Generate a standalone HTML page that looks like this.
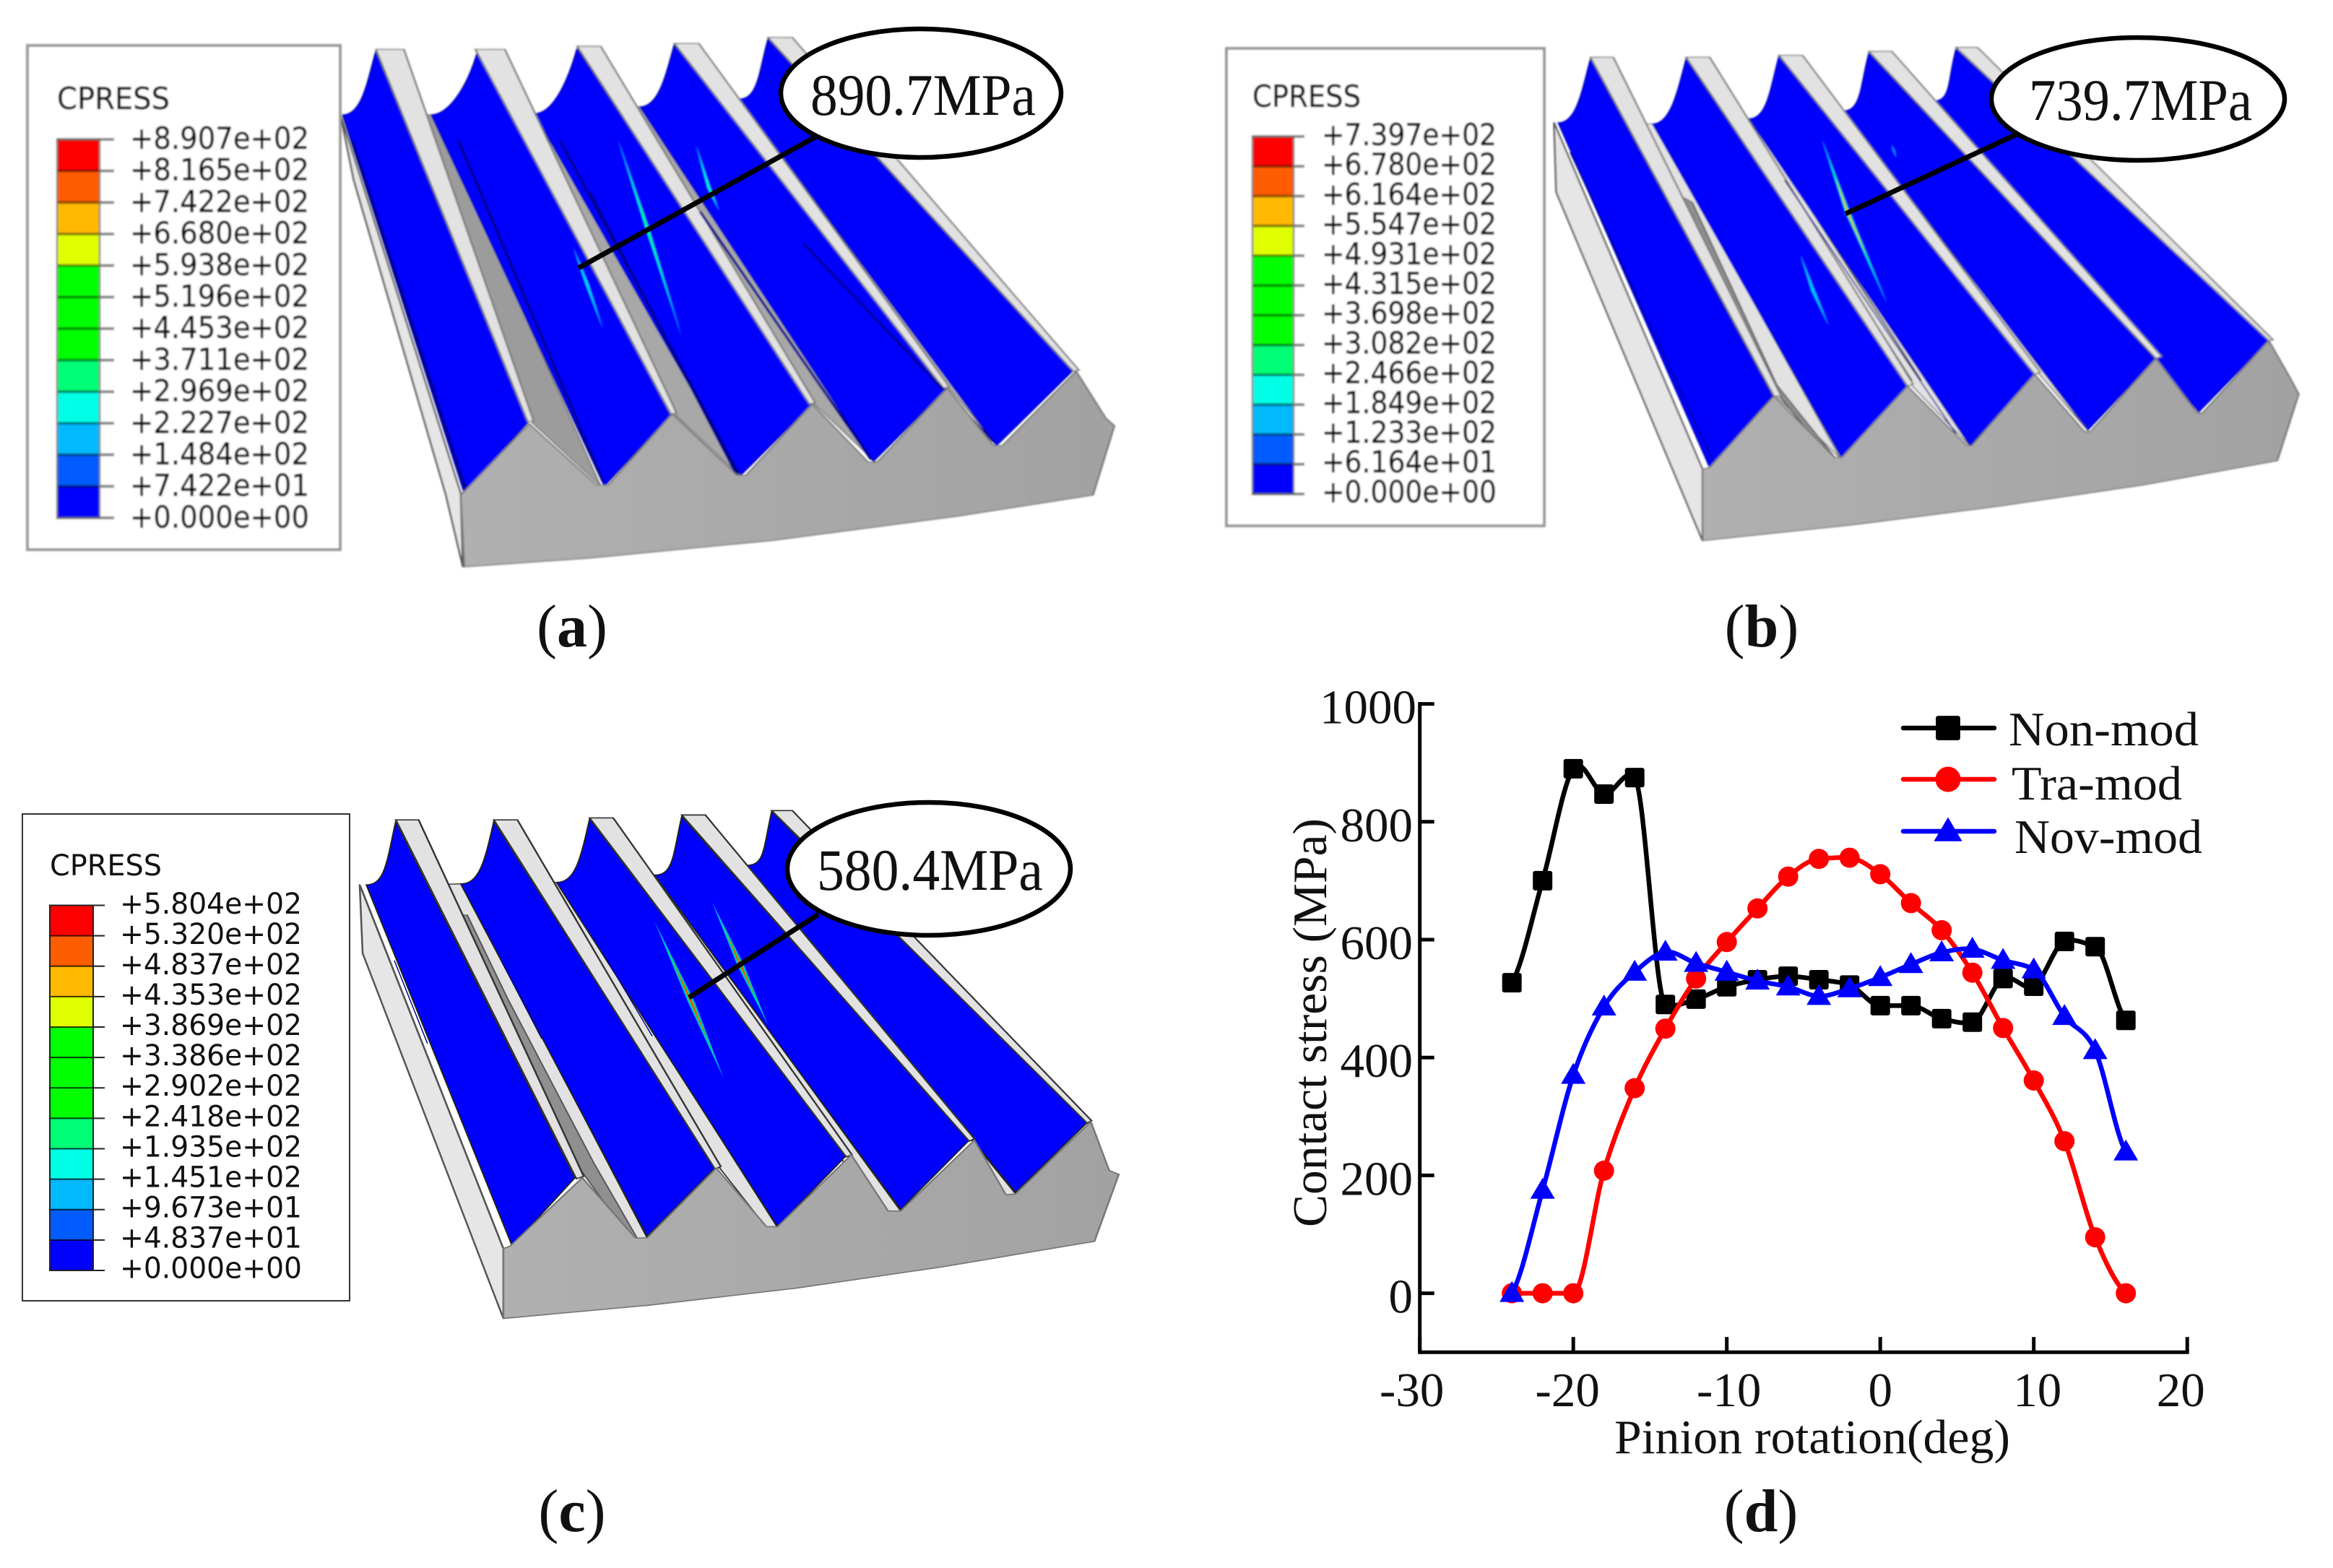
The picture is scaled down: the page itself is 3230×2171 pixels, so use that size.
<!DOCTYPE html>
<html lang="en">
<head>
<meta charset="utf-8">
<title>Contact pressure results</title>
<style>
html,body{margin:0;padding:0;background:#fff;}
svg{display:block;position:absolute;left:0;top:0;}
text{font-family:"Liberation Serif",serif;fill:#111;}
.fea{font-family:"DejaVu Sans",sans-serif;fill:#111;}
</style>
</head>
<body>
<svg id="root" xmlns="http://www.w3.org/2000/svg" width="3230" height="2171" viewBox="0 0 3230 2171">
<defs>
<filter id="soft" x="-2%" y="-2%" width="104%" height="104%"><feGaussianBlur stdDeviation="1.1"/></filter>
<linearGradient id="faceGrad" x1="0" y1="0" x2="1" y2="0"><stop offset="0" stop-color="#b0b0b0"/><stop offset="1" stop-color="#a2a2a2"/></linearGradient>
</defs>
<rect width="3230" height="2171" fill="#fff"/>
<g id="panel-a" filter="url(#soft)"></g>
<g id="panel-b" filter="url(#soft)"></g>
<g id="panel-c"></g>
<g id="callouts"></g>
<g id="chart"></g>
<text x="792" y="895" text-anchor="middle" font-size="84">(<tspan font-weight="bold">a</tspan>)</text>
<text x="2439" y="895" text-anchor="middle" font-size="84">(<tspan font-weight="bold">b</tspan>)</text>
<text x="792" y="2120" text-anchor="middle" font-size="84">(<tspan font-weight="bold">c</tspan>)</text>
<text x="2438" y="2120" text-anchor="middle" font-size="84">(<tspan font-weight="bold">d</tspan>)</text>
</svg>
<script>
// ---------- chart data ----------
const rotation = [-24,-22,-20,-18,-16,-14,-12,-10,-8,-6,-4,-2,0,2,4,6,8,10,12,14,16];
const nonMod = [527,700,890,847,875,490,499,520,532,538,532,523,488,488,466,460,534,521,597,588,463];
const traMod = [0,0,0,208,348,449,534,596,653,707,737,739,711,662,616,544,450,361,258,95,0];
const novMod = [0,175,370,486,545,579,560,545,530,520,504,517,536,558,578,584,565,549,470,412,240];
const xTicks = [-30,-20,-10,0,10,20];
const yTicks = [1000,800,600,400,200,0];
const seriesNames = ['Non-mod','Tra-mod','Nov-mod'];

// ---------- FEA legend data ----------
const legendA = ['+8.907e+02','+8.165e+02','+7.422e+02','+6.680e+02','+5.938e+02','+5.196e+02','+4.453e+02','+3.711e+02','+2.969e+02','+2.227e+02','+1.484e+02','+7.422e+01','+0.000e+00'];
const legendB = ['+7.397e+02','+6.780e+02','+6.164e+02','+5.547e+02','+4.931e+02','+4.315e+02','+3.698e+02','+3.082e+02','+2.466e+02','+1.849e+02','+1.233e+02','+6.164e+01','+0.000e+00'];
const legendC = ['+5.804e+02','+5.320e+02','+4.837e+02','+4.353e+02','+3.869e+02','+3.386e+02','+2.902e+02','+2.418e+02','+1.935e+02','+1.451e+02','+9.673e+01','+4.837e+01','+0.000e+00'];
const bandColors = ['#ff0000','#ff5c00','#ffb900','#e0ff00','#00ff00','#00ff00','#00ff00','#00ff76','#00ffe6','#00b9ff','#005cff','#0000ff'];

const NS = 'http://www.w3.org/2000/svg';
function mk(parent, tag, attrs, name) {
  const el = document.createElementNS(NS, tag);
  for (const k in attrs) el.setAttribute(k, attrs[k]);
  
  
  parent.appendChild(el);
  return el;
}
function ptsStr(p) { return p.map(q => q.join(',')).join(' '); }

// ---------- FEA legend ----------
function drawLegend(g, o, labels, crisp) {
  mk(g, 'rect', {x:o.bx, y:o.by, width:o.bw, height:o.bh, fill:'#fff', stroke:crisp?'#333':'#999', 'stroke-width':crisp?2:4}, 'legend-box');
  const tAttrs = {x:o.tx, y:o.ty, 'font-size':crisp?40:42, textLength:o.tw, lengthAdjust:'spacingAndGlyphs', class:'fea'};
  if (!crisp) { tAttrs.stroke = '#111'; tAttrs['stroke-width'] = 0.6; }
  const t = mk(g, 'text', tAttrs, 'legend-title');
  t.textContent = 'CPRESS';
  const n = labels.length - 1, h = (o.y2 - o.y1) / n;
  bandColors.forEach(function (c, i) {
    mk(g, 'rect', {x:o.x1, y:o.y1 + i*h, width:o.x2-o.x1, height:h+0.5, fill:c}, 'legend-band');
  });
  labels.forEach(function (lab, i) {
    const y = o.y1 + i*h;
    mk(g, 'line', {x1:o.x1, x2:o.x2, y1:y, y2:y, stroke:'#000', 'stroke-opacity':crisp?0.75:0.4, 'stroke-width':crisp?2:4}, 'legend-separator');
    mk(g, 'line', {x1:o.x2, x2:o.tick, y1:y, y2:y, stroke:crisp?'#222':'#888', 'stroke-width':crisp?2:4}, 'legend-tick');
    const a = {x:o.lx, y:o.lc + i*o.ls + 15, 'font-size':crisp?40:42, textLength:o.lw, lengthAdjust:'spacingAndGlyphs', class:'fea'};
    if (!crisp) { a.stroke = '#111'; a['stroke-width'] = 0.6; }
    const tx = mk(g, 'text', a, 'legend-label');
    tx.textContent = lab;
  });
  if (!crisp) mk(g, 'rect', {x:o.x1, y:o.y1, width:o.x2-o.x1, height:o.y2-o.y1, fill:'none', stroke:'#777', 'stroke-opacity':.7, 'stroke-width':3}, 'legend-bar-outline');
  else mk(g, 'rect', {x:o.x1, y:o.y1, width:o.x2-o.x1, height:o.y2-o.y1, fill:'none', stroke:'#222', 'stroke-width':2}, 'legend-bar-outline');
}

// ---------- FEA gear model ----------
function lens(a, m, b, w) {
  return [a, [m[0]-w, m[1]], b, [m[0]+w, m[1]]];
}
function along(p, q, f) { return [p[0]+(q[0]-p[0])*f, p[1]+(q[1]-p[1])*f]; }
function drawGear(g, o) {
  const m = mk(g, 'g', {transform:'translate('+o.ox+','+o.oy+') scale('+o.sx+','+o.sy+')'}, 'gear-model');
  function toLocal(p) { return [(p[0]-o.ox)/o.sx, (p[1]-o.oy)/o.sy]; }
  mk(m, 'polygon', {points:ptsStr(o.left), fill:'#e6e6e6', stroke:'#555', 'stroke-width':2.5, 'stroke-linejoin':'round'}, 'gear-side-face');
  o.sides.forEach(function (s, i) {
    mk(m, 'polygon', {points:ptsStr(s), fill:o.sideFills[i], stroke:o.edge, 'stroke-width':2}, 'tooth-back-side');
  });
  o.slivers.forEach(function (s) {
    mk(m, 'polygon', {points:ptsStr(s.map(toLocal)), fill:o.sliverFill, stroke:'#555', 'stroke-width':2}, 'tooth-shadow-sliver');
  });
  o.edgeLines.forEach(function (l) {
    const a = toLocal([l[0],l[1]]), b = toLocal([l[2],l[3]]);
    mk(m, 'line', {x1:a[0], y1:a[1], x2:b[0], y2:b[1], stroke:'#555', 'stroke-width':2.5}, 'edge-line');
  });
  o.flanks.forEach(function (f) {
    const d = 'M'+f[0]+' '+f[1]+' C'+(f[0]+26)+' '+f[1]+' '+(f[2]-12)+' '+(f[3]+80)+' '+f[2]+' '+f[3]+
              ' L'+f[4]+' '+f[5]+' L'+f[6]+' '+f[7]+' Z';
    mk(m, 'path', {d:d, fill:'#0000ff', stroke:o.flankEdge, 'stroke-width':2}, 'tooth-flank');
  });
  o.stripes.forEach(function (s) {
    mk(m, 'polygon', {points:ptsStr(s), fill:'#e2e2e2', stroke:o.edge, 'stroke-width':2.5}, 'tooth-top-land');
  });
  o.dark.forEach(function (l) {
    mk(m, 'line', {x1:l[0], y1:l[1], x2:l[2], y2:l[3], stroke:'#000090', 'stroke-width':o.darkW}, 'flank-edge-line');
  });
  o.streaks.forEach(function (s) {
    const w = s[3];
    mk(m, 'polygon', {points:ptsStr(lens(s[0],s[1],s[2],w*1.6)), fill:'#00a8ff'}, 'stress-streak-outer');
    mk(m, 'polygon', {points:ptsStr(lens(along(s[0],s[1],.25),s[1],along(s[2],s[1],.25),w)), fill:s[4]}, 'stress-streak-inner');
    if (s[5]) mk(m, 'polygon', {points:ptsStr(lens(along(s[0],s[1],.5),s[1],along(s[2],s[1],.5),w*.5)), fill:s[5]}, 'stress-streak-core');
  });
  mk(m, 'polygon', {points:ptsStr(o.front), fill:'url(#faceGrad)', stroke:'#777', 'stroke-width':2.5, 'stroke-linejoin':'round'}, 'gear-front-face');
}

const panelA = {
  ox:0, oy:30, sx:1/0.98, sy:1/1.823, edge:'#777', flankEdge:'#0000b0', sliverFill:'#9c9c9c', darkW:4,
  sideFills:['#9c9c9c','#a8a8a8','#a8a8a8','#b8b8b8'],
  left:[[462,235],[480,400],[605,1195],[628,1376],[625,1190]],
  flanks:[[465,235,510,75,716,1012,630,1190],[585,235,648,75,912,990,820,1172],[725,232,783,68,1102,965,1005,1145],[868,215,915,58,1285,925,1185,1110],[1003,195,1042,45,1455,882,1352,1070]],
  sides:[[[560,235],[590,235],[815,1172],[722,1012]],[[690,235],[728,232],[1005,1148],[915,990]],[[830,215],[870,215],[1188,1112],[1105,965]],[[960,195],[1005,195],[1355,1072],[1288,925]]],
  slivers:[], edgeLines:[],
  stripes:[[[510,70],[548,70],[724,1008],[716,1010]],[[645,70],[685,70],[918,988],[910,990]],[[783,62],[815,62],[1106,962],[1098,965]],[[915,55],[948,55],[1288,922],[1280,925]],[[1042,40],[1075,40],[1464,880],[1456,882]]],
  dark:[[478,300,632,1180],[622,300,818,1160],[760,300,1002,1140],[950,480,1182,1105],[800,430,1000,1145],[1090,560,1348,1060]],
  streaks:[[[838,295],[878,520],[925,795],1.6,'#00ff80'],[[944,310],[962,420],[976,478],1.4,'#00ffc0'],[[778,570],[796,660],[818,775],1.4,'#00e0ff']],
  front:[[625,1195],[718,1015],[810,1170],[825,1170],[912,990],[1000,1145],[1012,1145],[1102,965],[1178,1112],[1190,1112],[1285,925],[1348,1070],[1360,1070],[1460,882],[1500,1000],[1512,1020],[1483,1195],[1300,1248],[1050,1309],[800,1354],[630,1376]]
};
const panelB = {
  ox:1680, oy:30, sx:1/1.0116, sy:1/1.823, edge:'#777', flankEdge:'#0000c0', sliverFill:'#8f8f8f', darkW:2,
  sideFills:['#e2e2e2','#e2e2e2','#e2e2e2','#e2e2e2'],
  left:[[477,255],[480,430],[685,1310],[685,1130]],
  flanks:[[483,255,528,95,783,945,695,1125],[615,258,662,95,972,920,880,1100],[750,245,792,88,1150,890,1060,1070],[882,225,918,80,1320,850,1225,1030],[1008,200,1040,70,1478,805,1380,985]],
  sides:[[[575,258],[618,258],[878,1102],[790,948]],[[705,245],[752,245],[1060,1072],[978,918]],[[835,225],[884,225],[1226,1035],[1156,888]],[[960,200],[1010,200],[1382,988],[1325,848]]],
  slivers:[[[2320,268],[2343,280],[2460,533],[2540,633],[2530,630],[2457,540],[2430,487]]],
  edgeLines:[[2493,287,2647,527],[2505,287,2660,527]],
  stripes:[[[528,90],[560,90],[795,945],[785,945]],[[662,90],[695,90],[980,915],[972,920]],[[792,85],[825,85],[1158,885],[1150,890]],[[918,75],[950,75],[1328,845],[1320,850]],[[1040,65],[1070,65],[1484,803],[1478,805]]],
  dark:[[500,330,700,1110],[800,400,1040,1040]],
  streaks:[[[852,296],[888,480],[944,714],2.2,'#00ff00','#ff9a00'],[[822,588],[840,680],[862,768],1.6,'#00c8ff'],[[950,312],[953,326],[956,342],1,'#0070ff']],
  front:[[685,1130],[695,1125],[785,945],[870,1100],[880,1100],[972,920],[1055,1070],[1062,1070],[1150,890],[1220,1035],[1228,1035],[1320,850],[1378,988],[1385,988],[1478,805],[1505,890],[1520,940],[1490,1108],[1300,1170],[1100,1223],[900,1269],[685,1310]]
};
const panelC = {
  ox:0, oy:1100, sx:1/0.98, sy:1/1.479, edge:'#333', flankEdge:'#222', sliverFill:'#8f8f8f', darkW:1.5,
  sideFills:['#e2e2e2','#e2e2e2','#e2e2e2','#e2e2e2'],
  left:[[488,185],[492,325],[683,1073],[683,930]],
  flanks:[[497,185,537,55,780,785,695,925],[625,183,670,55,970,765,878,905],[755,180,800,50,1148,740,1055,885],[888,165,925,45,1315,708,1222,850],[1012,145,1047,35,1475,672,1378,815]],
  sides:[[[580,185],[627,183],[878,908],[862,910],[790,785]],[[712,180],[757,180],[1055,887],[1040,887],[976,764]],[[845,165],[890,165],[1222,853],[1205,855],[1155,738]],[[970,145],[1014,145],[1378,818],[1362,820],[1322,706]]],
  slivers:[[[640,1267],[647,1267],[703,1383],[822,1610],[882,1714],[870,1712],[797,1610],[693,1387]]],
  edgeLines:[[499,1227,697,1729],[790,1260,1000,1640],[930,1250,1195,1650]],
  stripes:[[[537,52],[568,52],[792,782],[782,787]],[[670,52],[702,52],[978,762],[970,767]],[[800,48],[832,48],[1156,738],[1148,742]],[[925,42],[957,42],[1322,705],[1315,710]],[[1047,33],[1075,33],[1481,668],[1475,673]]],
  dark:[[535,340,580,510],[680,340,735,500],[820,330,885,495]],
  streaks:[[[888,260],[938,425],[982,582],3,'#00e060','#ff5000'],[[966,220],[1005,350],[1042,472],3,'#00e060','#ff5000']],
  front:[[683,930],[692,925],[790,785],[862,908],[878,908],[972,765],[1040,885],[1055,885],[1155,738],[1205,853],[1222,853],[1322,708],[1365,820],[1378,818],[1480,670],[1505,770],[1518,778],[1485,915],[1280,967],[1080,1011],[880,1046],[683,1073]]
};
drawGear(document.getElementById('panel-a'), panelA);
drawGear(document.getElementById('panel-b'), panelB);
drawGear(document.getElementById('panel-c'), panelC);

drawLegend(document.getElementById('panel-a'), {bx:38,by:63,bw:433,bh:698,tx:79,ty:151,tw:156,x1:79,x2:138,y1:193,y2:717,tick:158,lx:180,lc:191,ls:43.7,lw:248}, legendA, false);
drawLegend(document.getElementById('panel-b'), {bx:1698,by:67,bw:440,bh:661,tx:1734,ty:148,tw:150,x1:1734,x2:1791,y1:189,y2:684,tick:1806,lx:1830,lc:186,ls:41.2,lw:242}, legendB, false);
drawLegend(document.getElementById('panel-c'), {bx:31,by:1127,bw:453,bh:674,tx:69,ty:1212,tw:155,x1:69,x2:129,y1:1253.5,y2:1759,tick:145,lx:166,lc:1250,ls:42.04,lw:252}, legendC, true);

// ---------- callouts ----------
const callouts = [
  {cx:1275,cy:129,rx:194,ry:89,x1:1130,y1:189,x2:801,y2:371,tx:1122,ty:159,tw:312,label:'890.7MPa'},
  {cx:2960,cy:137,rx:203,ry:85,x1:2792,y1:186,x2:2555,y2:296,tx:2809,ty:166,tw:309,label:'739.7MPa'},
  {cx:1286,cy:1203,rx:196,ry:92,x1:1133,y1:1266,x2:954,y2:1381,tx:1131,ty:1232,tw:313,label:'580.4MPa'}
];
const cg = document.getElementById('callouts');
callouts.forEach(function (c) {
  mk(cg, 'line', {x1:c.x1, y1:c.y1, x2:c.x2, y2:c.y2, stroke:'#000', 'stroke-width':7}, 'callout-leader');
  mk(cg, 'ellipse', {cx:c.cx, cy:c.cy, rx:c.rx, ry:c.ry, fill:'#fff', stroke:'#000', 'stroke-width':6.5}, 'callout-bubble');
  const t = mk(cg, 'text', {x:c.tx, y:c.ty, 'font-size':82, textLength:c.tw, lengthAdjust:'spacingAndGlyphs'}, 'callout-label');
  t.textContent = c.label;
});

// ---------- chart ----------
const X0 = 2603.2, XS = 21.25, Y0 = 1790.6, YS = 0.816;
function xScale(v) { return X0 + v * XS; }
function yScale(v) { return Y0 - v * YS; }
const chart = document.getElementById('chart');
const xLow = -30, xHigh = 20, yLow = -100, yHigh = 1000;

mk(chart, 'line', {x1:xScale(xLow), x2:xScale(xLow), y1:yScale(yHigh)-2.5, y2:yScale(yLow)+2.5, stroke:'#000', 'stroke-width':5}, 'y-axis');
mk(chart, 'line', {x1:xScale(xLow), x2:xScale(xHigh)+2.5, y1:yScale(yLow), y2:yScale(yLow), stroke:'#000', 'stroke-width':5}, 'x-axis');

const xLabelNudge = {'-30':-11, '-20':-8, '-10':3, '0':0, '10':5, '20':-9};
xTicks.forEach(function (v) {
  mk(chart, 'line', {x1:xScale(v), x2:xScale(v), y1:yScale(yLow), y2:yScale(yLow)-21, stroke:'#000', 'stroke-width':5}, 'x-tick');
  const t = mk(chart, 'text', {x:xScale(v)+xLabelNudge[v], y:1947, 'text-anchor':'middle', 'font-size':67}, 'x-tick-label');
  t.textContent = v;
});
yTicks.forEach(function (v) {
  mk(chart, 'line', {x1:xScale(xLow), x2:xScale(xLow)+20, y1:yScale(v), y2:yScale(v), stroke:'#000', 'stroke-width':5}, 'y-tick');
  const t = mk(chart, 'text', {x:v === 1000 ? 1961 : 1956, y:yScale(v)+27, 'text-anchor':'end', 'font-size':67}, 'y-tick-label');
  t.textContent = v;
});
const xt = mk(chart, 'text', {x:2509, y:2012, 'text-anchor':'middle', 'font-size':67, textLength:548, lengthAdjust:'spacingAndGlyphs'}, 'x-axis-title');
xt.textContent = 'Pinion rotation(deg)';
const yt = mk(chart, 'text', {x:0, y:0, 'text-anchor':'middle', 'font-size':67, transform:'translate(1836,1416) rotate(-90)', textLength:566, lengthAdjust:'spacingAndGlyphs'}, 'y-axis-title');
yt.textContent = 'Contact stress (MPa)';

function smoothPath(xs, ys) {
  const p = xs.map(function (v, i) { return [xScale(v), yScale(ys[i])]; });
  const last = p.length - 1;
  const tan = p.map(function (q, i) {
    if (i === 0) return (p[1][1]-q[1]) * 0.5;
    if (i === last) return (q[1]-p[last-1][1]) * 0.5;
    const d0 = q[1]-p[i-1][1], d1 = p[i+1][1]-q[1];
    const t = (d0+d1)/2, lim = 2*Math.min(Math.abs(d0), Math.abs(d1));
    return Math.sign(t)*Math.min(Math.abs(t), lim);
  });
  let d = 'M' + p[0][0] + ' ' + p[0][1];
  for (let i = 0; i < last; i++) {
    const dx = (p[i+1][0]-p[i][0])/3;
    d += ' C' + (p[i][0]+dx) + ' ' + (p[i][1]+tan[i]/3) + ' ' +
         (p[i+1][0]-dx) + ' ' + (p[i+1][1]-tan[i+1]/3) + ' ' + p[i+1][0] + ' ' + p[i+1][1];
  }
  return d;
}
function marker(g, kind, x, y, color, k) {
  if (kind === 'square') {
    mk(g, 'rect', {x:x-13.5*k, y:y-13.5*k, width:27*k, height:27*k, rx:3, fill:color}, 'point-square');
  } else if (kind === 'circle') {
    mk(g, 'circle', {cx:x, cy:y, r:14*k, fill:color}, 'point-circle');
  } else {
    mk(g, 'polygon', {points:(x)+','+(y-17*k)+' '+(x+17*k)+','+(y+12*k)+' '+(x-17*k)+','+(y+12*k), fill:color}, 'point-triangle');
  }
}
const seriesList = [
  {values:nonMod, color:'#000000', kind:'square', legendY:1008, textX:2781, textY:1032, textW:263, k:1.25},
  {values:traMod, color:'#ff0000', kind:'circle', legendY:1079, textX:2785, textY:1107, textW:236, k:1.25},
  {values:novMod, color:'#0000ff', kind:'triangle', legendY:1151, textX:2789, textY:1181, textW:260, k:1.15}
];
seriesList.forEach(function (s, idx) {
  const g = mk(chart, 'g', {}, 'series-' + seriesNames[idx].toLowerCase());
  mk(g, 'path', {d:smoothPath(rotation, s.values), fill:'none', stroke:s.color, 'stroke-width':6.5, 'stroke-linejoin':'round', 'stroke-linecap':'round'}, 'series-line');
  s.values.forEach(function (v, i) { marker(g, s.kind, xScale(rotation[i]), yScale(v), s.color, 1); });
  const lg = mk(chart, 'g', {}, 'legend-entry');
  mk(lg, 'line', {x1:2635, x2:2761, y1:s.legendY, y2:s.legendY, stroke:s.color, 'stroke-width':6.5, 'stroke-linecap':'round'}, 'legend-line');
  marker(lg, s.kind, 2697, s.legendY, s.color, s.k);
  const t = mk(lg, 'text', {x:s.textX, y:s.textY, 'font-size':67, textLength:s.textW, lengthAdjust:'spacingAndGlyphs'}, 'legend-label');
  t.textContent = seriesNames[idx];
});
</script>
</body>
</html>
